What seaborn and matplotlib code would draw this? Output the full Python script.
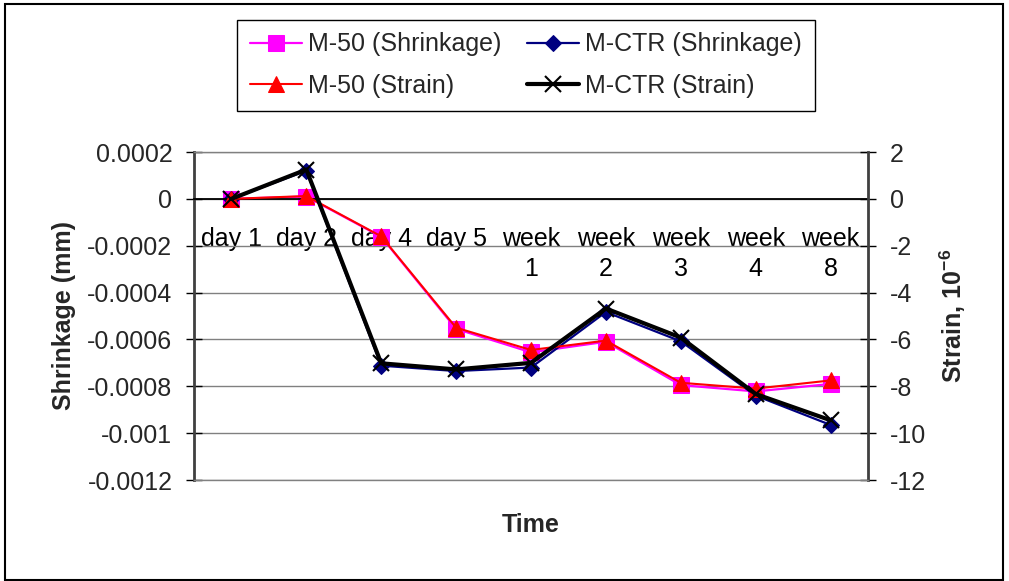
import numpy as np
import matplotlib
matplotlib.use("Agg")
import matplotlib.pyplot as plt
from matplotlib.patches import Rectangle
from matplotlib.ticker import FuncFormatter, FixedLocator
import seaborn as sns

# data
categories = ['day 1', 'day 2', 'day 4', 'day 5', 'week 1', 'week 2', 'week 3', 'week 4', 'week 8']
tick_labels = ['day 1', 'day 2', 'day 4', 'day 5', 'week\n1', 'week\n2', 'week\n3', 'week\n4', 'week\n8']

m50_shrink = [0, 0.00001, -0.000162, -0.000555, -0.000655, -0.00061, -0.000795, -0.000822, -0.00079]
mctr_shrink = [0, 0.00012, -0.000712, -0.000735, -0.00072, -0.000483, -0.000608, -0.00084, -0.000965]
m50_strain = [0, 0.12, -1.6, -5.5, -6.45, -6.05, -7.85, -8.1, -7.75]
mctr_strain = [0, 1.25, -7.02, -7.28, -7.0, -4.68, -5.92, -8.33, -9.45]

shrink_ticks = [0.0002, 0, -0.0002, -0.0004, -0.0006, -0.0008, -0.001, -0.0012]
strain_ticks = [2, 0, -2, -4, -6, -8, -10, -12]

sns.set_theme(style='white')
plt.rcParams['font.family'] = ['Liberation Sans', 'DejaVu Sans']
plt.rcParams['axes.unicode_minus'] = False
plt.rcParams['mathtext.fontset'] = 'custom'
plt.rcParams['mathtext.bf'] = 'Liberation Sans:bold'
plt.rcParams['mathtext.rm'] = 'Liberation Sans'
fs = 18

W, H = 1009, 581
fig = plt.figure(figsize=(W / 100, H / 100), dpi=100)
ax = fig.add_axes([194 / W, 1 - 480 / H, 674 / W, 328 / H])
ax2 = ax.twinx()
ax.set_zorder(ax2.get_zorder() - 1)

x = np.arange(len(categories))

sns.lineplot(x=x, y=m50_shrink, ax=ax, color='#FF00FF', marker='s', markersize=11,
             markeredgecolor='#FF00FF', linewidth=1.6, label='M-50 (Shrinkage)', legend=False)
sns.lineplot(x=x, y=mctr_shrink, ax=ax, color='#000080', marker='D', markersize=8,
             markeredgecolor='#000080', linewidth=1.6, label='M-CTR (Shrinkage)', legend=False)
sns.lineplot(x=x, y=m50_strain, ax=ax2, color='#FF0000', marker='^', markersize=11,
             markeredgecolor='#FF0000', linewidth=1.5, label='M-50 (Strain)', legend=False)
sns.lineplot(x=x, y=mctr_strain, ax=ax2, color='black', marker='x', markersize=11,
             markeredgecolor='black', markeredgewidth=1.5, linewidth=3,
             label='M-CTR (Strain)', legend=False)

ax.set_xlim(-0.5, len(categories) - 0.5)
ax.set_ylim(-0.0012, 0.0002)
ax2.set_ylim(-12, 2)

ax.set_yticks(shrink_ticks)
ax.yaxis.set_major_formatter(FuncFormatter(lambda v, p: '0' if abs(v) < 1e-12 else f'{round(v, 6):g}'))
ax2.set_yticks(strain_ticks)
ax2.yaxis.set_major_formatter(FuncFormatter(lambda v, p: f'{v:.0f}'))

ax.grid(axis='y', color='#808080', linewidth=1)
ax.grid(axis='x', visible=False)
ax2.grid(False)

# x axis crosses at zero, labels centred in categories, ticks between
ax.spines['bottom'].set_position(('data', 0))
ax.spines['bottom'].set_color('black')
ax.spines['bottom'].set_linewidth(1.3)
ax.set_xticks(x)
ax.set_xticklabels(tick_labels, linespacing=1.35)
ax.xaxis.set_minor_locator(FixedLocator(np.arange(len(categories)) + 0.5))
ax.tick_params(axis='x', which='major', length=0, pad=20, labelsize=fs, colors='black')
ax.tick_params(axis='x', which='minor', length=12, direction='inout', width=1, color='black')

ax.spines['top'].set_color('#808080')
ax.spines['top'].set_linewidth(1)
ax.spines['right'].set_visible(False)
ax.spines['left'].set_color('#404040')
ax.spines['left'].set_linewidth(2)
ax.tick_params(axis='y', length=11, direction='inout', width=1, color='black', pad=10,
               labelsize=fs, left=True)

ax2.spines['top'].set_visible(False)
ax2.spines['left'].set_visible(False)
ax2.spines['bottom'].set_color('#808080')
ax2.spines['bottom'].set_linewidth(1)
ax2.spines['right'].set_color('#404040')
ax2.spines['right'].set_linewidth(2)
ax2.tick_params(axis='y', length=11, direction='inout', width=1, color='black', pad=10,
                labelsize=fs, right=True)

ax.set_ylabel('Shrinkage (mm)', fontsize=fs, fontweight='bold')
ax.yaxis.set_label_coords(-0.175, 0.5)
ax2.set_ylabel(r'Strain, 10$^{\mathbf{-6}}$', fontsize=fs, fontweight='bold')
ax2.yaxis.set_label_coords(1.104, 0.5)
ax.set_xlabel('Time', fontsize=fs, fontweight='bold')
ax.xaxis.set_label_coords(0.5, -0.1)

h1, l1 = ax.get_legend_handles_labels()
h2, l2 = ax2.get_legend_handles_labels()
handles = [h1[0], h2[0], h1[1], h2[1]]
labels = [l1[0], l2[0], l1[1], l2[1]]
fig.legend(handles, labels, ncol=2, loc='upper left', bbox_to_anchor=(237 / W, 1 - 20 / H),
           fontsize=fs, frameon=True, fancybox=False, edgecolor='black', framealpha=1,
           handlelength=2.1, handletextpad=0.25, columnspacing=1.0, borderpad=0.5,
           labelspacing=0.7, borderaxespad=0)

fig.add_artist(Rectangle((5 / W, 1.5 / H), 998 / W, 576 / H, transform=fig.transFigure,
                         fill=False, edgecolor='black', linewidth=1.5))

fig.savefig('out.png', dpi=100, facecolor='white')
